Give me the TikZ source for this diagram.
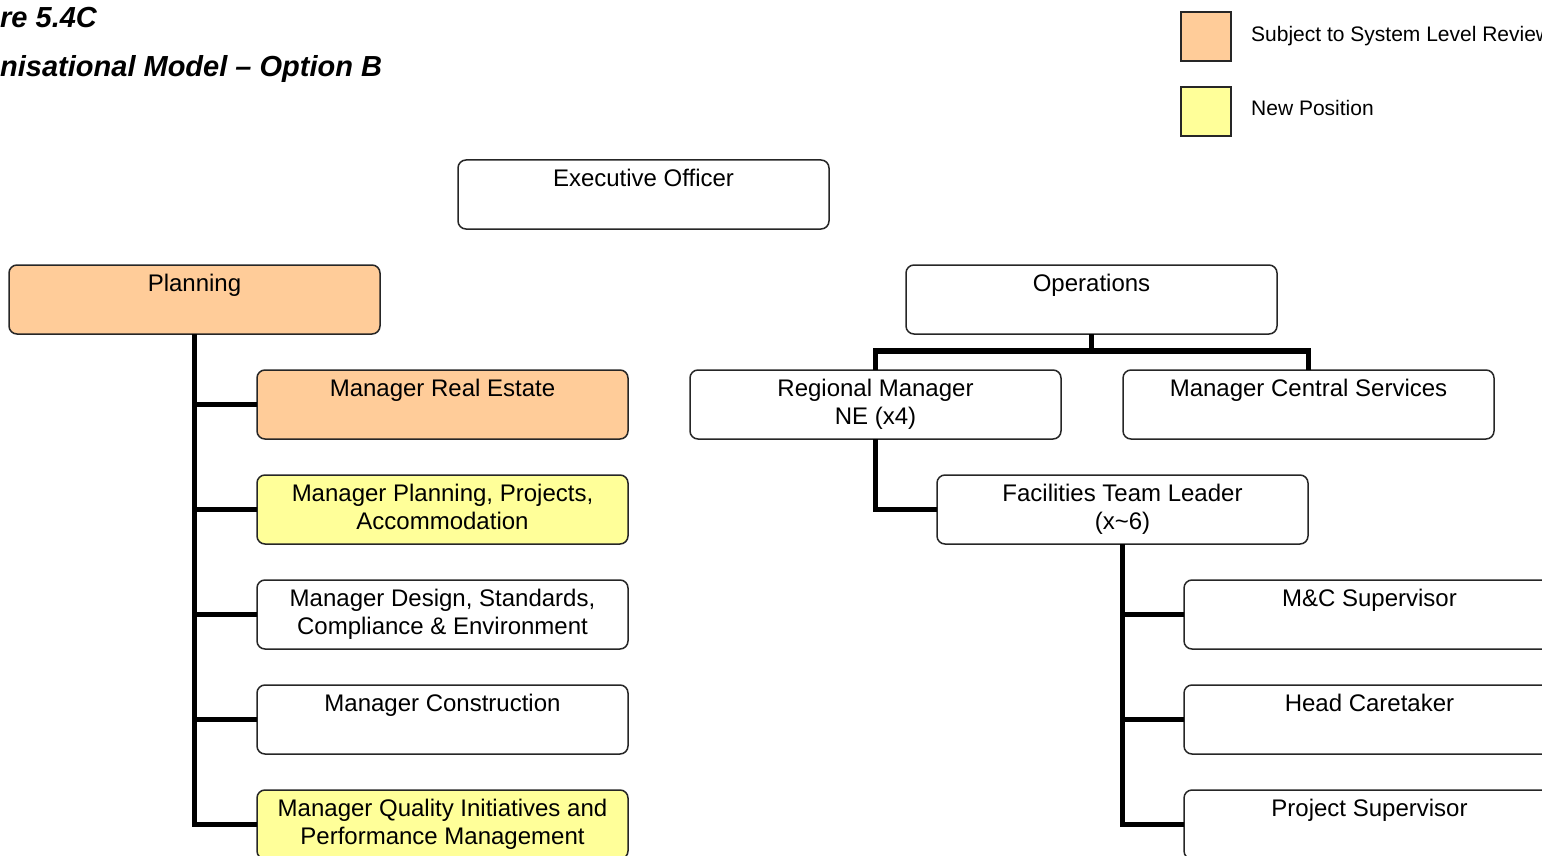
\documentclass[tikz,border=0pt]{standalone}
\usepackage{fontspec}
\setmainfont{Liberation Sans}
\usetikzlibrary{calc}
\definecolor{revieworange}{HTML}{FFCC99}
\definecolor{newyellow}{HTML}{FFFF99}
\newcommand\posttext[1]{\parbox[t][69pt][t]{371pt}{\centering\vspace*{6.8pt}\strut#1}}
\begin{document}
\begin{tikzpicture}[x=1pt,y=-1pt,
  post/.style={draw=black!85, line width=1.5pt, rounded corners=8pt, fill=white,
    inner sep=0pt, outer sep=0pt, anchor=north west, font=\fontsize{24}{28}\selectfont},
  review/.style={post, fill=revieworange},
  newpos/.style={post, fill=newyellow},
  link/.style={line width=5.5pt, line join=miter, draw=black},
  swatch/.style={draw=black!85, line width=1.5pt, minimum width=50pt, minimum height=49pt,
    inner sep=0pt, outer sep=0pt, anchor=north west},
  legendtext/.style={anchor=base west, inner sep=0pt, font=\fontsize{21}{25}\selectfont},
  titletext/.style={anchor=base west, inner sep=0pt, font=\fontsize{29}{33}\selectfont\bfseries\itshape}
]
\useasboundingbox (0,0) rectangle (1542,856);
\clip (0,0) rectangle (1542,856);

% heading
\node[titletext] (fig) at (0,28) {re 5.4C};
\node[titletext] (model) at (0,77) {nisational Model – Option B};

% legend
\node[swatch, fill=revieworange] (sw1) at (1181,12) {};
\node[swatch, fill=newyellow] (sw2) at (1181,87) {};
\node[legendtext] (lg1) at (1251,41.5) {Subject to System Level Review};
\node[legendtext] (lg2) at (1251,116) {New Position};

% top level
\node[post] (exec) at (458,160) {\posttext{Executive Officer}};
\node[review] (plan) at (9,265) {\posttext{Planning}};
\node[post] (ops) at (906,265) {\posttext{Operations}};

% planning branch
\node[review] (mre) at (257,370) {\posttext{Manager Real Estate}};
\node[newpos] (mpp) at (257,475) {\posttext{Manager Planning, Projects,\\Accommodation}};
\node[post] (mds) at (257,580) {\posttext{Manager Design, Standards,\\Compliance \& Environment}};
\node[post] (mcon) at (257,685) {\posttext{Manager Construction}};
\node[newpos] (mqi) at (257,790) {\posttext{Manager Quality Initiatives and\\Performance Management}};

% operations branch
\node[post] (rm) at (690,370) {\posttext{Regional Manager\\NE (x4)}};
\node[post] (mcs) at (1123,370) {\posttext{Manager Central Services}};
\node[post] (ftl) at (937,475) {\posttext{Facilities Team Leader\\(x\textasciitilde 6)}};
\node[post] (mcsup) at (1184,580) {\posttext{M\&C Supervisor}};
\node[post] (hc) at (1184,685) {\posttext{Head Caretaker}};
\node[post] (ps) at (1184,790) {\posttext{Project Supervisor}};

% reporting lines
\foreach \n in {mre,mpp,mds,mcon,mqi}
  \draw[link] (plan.south) |- (\n.west);
\coordinate (opsbar) at ($(ops.south)+(0,17)$);
\draw[link] (ops.south) -- (opsbar) -| (rm.north);
\draw[link] (opsbar) -| (mcs.north);
\draw[link] (rm.south) |- (ftl.west);
\foreach \n in {mcsup,hc,ps}
  \draw[link] (ftl.south) |- (\n.west);
\end{tikzpicture}
\end{document}
